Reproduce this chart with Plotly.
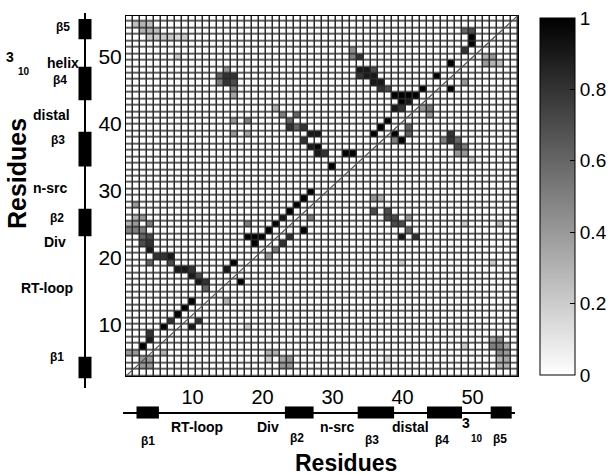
import numpy as np
import plotly.graph_objects as go

N = 56
residues = list(range(1, N + 1))

# sparse contact map: x residue, y residue, value
contact_x = [3, 4, 4, 6, 7, 8, 9, 10,
             3, 4, 3, 4, 4, 5, 6, 7, 4, 7, 8, 9, 10, 10, 11, 11, 12, 12,
             15, 16,
             1, 2, 1, 2, 3, 3, 2, 2, 4,
             21, 22, 23, 24, 25, 26, 27,
             18, 19, 20, 19, 18,
             24, 25, 26, 27, 28, 26, 27, 28, 28, 29, 22, 23, 25, 24, 16, 18, 16, 18,
             30, 32, 33,
             33, 34, 33, 34, 35, 36, 34, 35, 36, 36, 37, 37, 38, 39, 40, 41, 40, 41, 39, 40, 42, 43,
             36, 37, 38,
             45, 47, 49, 50, 50, 49, 50,
             14, 15, 16, 14, 15, 16, 15, 16, 16,
             2, 3, 4, 3, 4, 5, 4, 5, 6, 7, 8, 9, 8,
             10, 11, 17,
             26, 24, 23, 22, 21, 27,
             39, 40, 39, 41, 41, 43, 44, 44, 47, 47, 47, 48, 48, 49, 48, 49, 46, 50, 49,
             52, 53, 52, 53, 54,
             36, 36, 37, 38, 38, 39, 39, 40, 41, 40, 41, 42,
             49, 54, 40, 53,
             53, 54, 53, 54, 55, 54, 55, 54, 55, 54, 55, 49, 38,
             21, 22, 23, 24, 23, 24, 21, 15, 18,
             1, 2, 3, 4, 3, 4, 6]
contact_y = [5, 6, 7, 8, 9, 10, 11, 12,
             21, 21, 22, 22, 20, 19, 19, 19, 18, 18, 17, 17, 17, 16, 16, 15, 15, 14,
             17, 18,
             24, 24, 23, 23, 23, 25, 25, 27, 24,
             23, 24, 25, 26, 27, 28, 29,
             22, 22, 22, 21, 24,
             39, 39, 39, 38, 38, 37, 36, 36, 35, 35, 42, 41, 41, 40, 40, 40, 38, 38,
             33, 35, 35,
             51, 50, 50, 48, 48, 48, 47, 47, 47, 46, 46, 45, 45, 44, 44, 44, 43, 43, 42, 42, 44, 45,
             38, 39, 40,
             47, 49, 51, 52, 53, 54, 54,
             47, 47, 47, 46, 46, 46, 48, 45, 44,
             55, 55, 55, 54, 54, 54, 53, 53, 53, 53, 53, 53, 50,
             8, 9, 15,
             23, 22, 21, 20, 19, 25,
             37, 37, 38, 38, 39, 42, 42, 41, 45, 38, 37, 37, 36, 36, 35, 35, 37, 34, 46,
             50, 50, 49, 49, 49,
             28, 26, 28, 26, 25, 25, 24, 24, 25, 22, 23, 22,
             24, 24, 18, 18,
             6, 6, 5, 5, 5, 4, 4, 3, 3, 2, 2, 5, 3,
             4, 4, 3, 3, 2, 2, 3, 12, 8,
             4, 4, 3, 3, 2, 2, 4]
contact_v = [1, .9, .8, 1, .8, 1, 1, 1,
             .7, .8, .6, .7, .9, .8, .8, .9, .6, .7, .9, .9, .8, .9, .7, .9, .8, .6,
             .9, 1,
             .3, .4, .5, .5, .5, .4, .3, .4, .5,
             1, 1, .9, 1, 1, 1, 1,
             1, 1, 1, 1, .5,
             .8, .6, .8, .9, .9, .8, .9, 1, .9, .8, .3, .5, .6, .6, .4, .5, .4, .35,
             1, 1, 1,
             .45, .8, .5, .9, .9, .7, .8, .9, .9, .9, .9, .8, .7, 1, 1, 1, 1, .9, .9, .8, 1, 1,
             1, 1, 1,
             1, 1, .8, 1, 1, .6, .7,
             .6, .8, .8, .5, .8, .7, .4, .5, .35,
             .25, .3, .25, .3, .3, .25, .2, .2, .2, .2, .15, .2, .2,
             .9, .8, 1,
             1, .8, .8, .5, .4, .5,
             .5, 1, 1, .6, .6, .4, .5, .4, 1, .8, .8, .6, .7, .5, .4, .4, .5, .2, .4,
             .3, .4, .4, .3, .25,
             .4, .7, .3, .7, .7, .7, .7, .7, .4, .9, .6, .8,
             .2, .25, .2, .2,
             .35, .45, .5, .5, .35, .45, .4, .3, .35, .3, .3, .2, .15,
             .3, .3, .35, .4, .4, .4, .2, .3, .2,
             .4, .4, .4, .4, .4, .4, .3]

# secondary structure elements (residue ranges)
ss_names = ["β1", "β2", "β3", "β4", "β5"]
ss_start = [2.0, 23.2, 33.6, 43.5, 52.6]
ss_end = [5.2, 27.3, 38.8, 48.5, 55.6]

axis_ticks = [10, 20, 30, 40, 50]
cbar_ticks = [0, 0.2, 0.4, 0.6, 0.8, 1]
cbar_text = ["0", "0.2", "0.4", "0.6", "0.8", "1"]

W, H = 616, 475


def px(x):
    return x / W


def py(y):
    return 1 - y / H


z = np.zeros((N, N))
for cx, cy, cv in zip(contact_x, contact_y, contact_v):
    z[cy - 1, cx - 1] = cv

FONT = "Liberation Sans, Arial, sans-serif"

fig = go.Figure()
fig.add_trace(go.Heatmap(
    x=residues, y=residues, z=z, zmin=0, zmax=1,
    colorscale=[[0, "#ffffff"], [1, "#000000"]],
    xgap=1.5, ygap=1.5, hoverinfo="skip",
    colorbar=dict(
        thickness=35, thicknessmode="pixels",
        len=357, lenmode="pixels",
        x=px(540), xanchor="left", xpad=0,
        y=py(196.5), yanchor="middle", ypad=0,
        outlinecolor="black", outlinewidth=1,
        ticks="inside", ticklen=5, tickcolor="black",
        tickvals=cbar_ticks, ticktext=cbar_text,
        tickfont=dict(size=19, family=FONT, color="black"),
    ),
))

lengths = [e - s for s, e in zip(ss_start, ss_end)]
fig.add_trace(go.Bar(
    x=[0] * len(ss_start), base=ss_start, y=lengths, width=0.52,
    marker=dict(color="black", line=dict(width=0)),
    xaxis="x2", yaxis="y2", hoverinfo="skip", showlegend=False,
))
fig.add_trace(go.Bar(
    y=[0] * len(ss_start), base=ss_start, x=lengths, width=0.69, orientation="h",
    marker=dict(color="black", line=dict(width=0)),
    xaxis="x3", yaxis="y3", hoverinfo="skip", showlegend=False,
))

# grid lines: dark background under the gapped heatmap
fig.add_shape(type="rect", x0=0.5, y0=0.5, x1=N + 0.5, y1=N + 0.5,
              xref="x", yref="y", layer="below", line=dict(width=0),
              fillcolor="#2a2a2a")
fig.add_shape(type="line", x0=0.5, y0=0.5, x1=N + 0.5, y1=N + 0.5,
              xref="x", yref="y", line=dict(color="#555555", width=1.2))

hm_axis = dict(range=[0.5, N + 0.5], showticklabels=False, ticks="",
               showgrid=False, zeroline=False, showline=True, mirror=True,
               linecolor="black", linewidth=1)

fig.update_layout(
    width=W, height=H,
    margin=dict(l=0, r=0, t=0, b=0),
    paper_bgcolor="white", plot_bgcolor="white",
    showlegend=False, barmode="overlay",
    xaxis=dict(domain=[px(126), px(518)], anchor="y", **hm_axis),
    yaxis=dict(domain=[py(376), py(15.5)], anchor="x", **hm_axis),
    xaxis2=dict(domain=[px(60), px(110)], range=[-1, 1], visible=False, anchor="y2"),
    yaxis2=dict(domain=[py(388.25), py(13.05)], range=[0.5, N + 0.5],
                anchor="free", position=px(84.5), side="right",
                showline=True, linecolor="black", linewidth=1.5,
                tickvals=axis_ticks, ticks="", showgrid=False, zeroline=False,
                ticklabelstandoff=9,
                tickfont=dict(size=21, family=FONT, color="black")),
    xaxis3=dict(domain=[px(123), px(515)], range=[(123 - 122.5) / 7.0, (515 - 122.5) / 7.0],
                anchor="free", position=py(412.7), side="top",
                showline=True, linecolor="black", linewidth=1.5,
                tickvals=axis_ticks, ticks="", showgrid=False, zeroline=False,
                tickfont=dict(size=20, family=FONT, color="black")),
    yaxis3=dict(domain=[py(430), py(395)], range=[-1, 1], visible=False, anchor="x3"),
)

bold = dict(family=FONT, color="black", weight="bold")


def label(x, y, text, size, angle=0):
    fig.add_annotation(x=px(x), y=py(y), xref="paper", yref="paper", text=text,
                       showarrow=False, xanchor="center", yanchor="middle",
                       textangle=angle, font=dict(size=size, **bold))


left_labels = [("β5", 63, 27), ("helix", 63, 63), ("β4", 60, 80), ("distal", 51, 115),
               ("β3", 58, 140), ("n-src", 50, 188), ("β2", 57, 218), ("Div", 55, 242),
               ("RT-loop", 47, 288), ("β1", 57, 357)]
for t, x, y in left_labels:
    label(x, y, t, 12 if t.startswith("β") else 14)
label(10, 57, "3", 14)
label(24, 72, "10", 10)

bottom_labels = [("β1", 148, 441), ("RT-loop", 197, 427), ("Div", 268, 427), ("β2", 297, 438),
                 ("n-src", 337, 427), ("β3", 372, 440), ("distal", 410, 427),
                 ("β4", 442, 440), ("β5", 500, 439)]
for t, x, y in bottom_labels:
    label(x, y, t, 12 if t.startswith("β") else 14)
label(466, 423, "3", 14)
label(477, 438, "10", 10)

label(346, 463, "Residues", 23)
label(17, 174, "Residues", 25, angle=-90)

fig.write_html("out.html", config={"displayModeBar": False},
               post_script="document.body.style.margin='0px';")
